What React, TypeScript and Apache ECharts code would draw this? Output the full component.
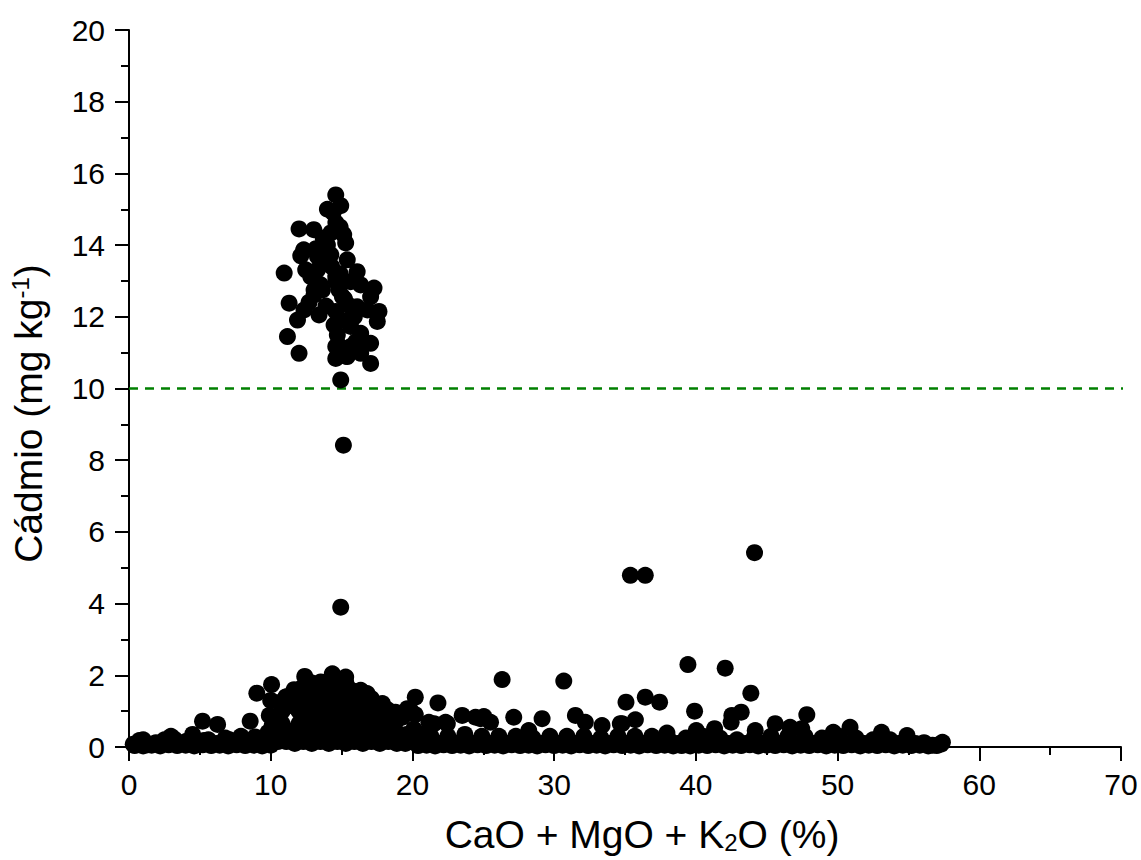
import React, { useEffect, useRef } from "react";
import * as echarts from "echarts";

// Upper cluster (samples above 10 mg/kg) and isolated points
const highCluster: number[][] = [
  [14.59, 15.4], [14.94, 15.1], [14.0, 15.0], [12.0, 14.45], [13.04, 14.43], [14.6, 14.62],
  [14.24, 14.34], [15.15, 14.29], [15.29, 14.06], [12.33, 13.87], [12.12, 13.7], [13.3, 13.68],
  [14.24, 13.73], [15.4, 13.59], [10.95, 13.22], [12.47, 13.31], [13.3, 13.31], [16.1, 13.26],
  [12.83, 13.12], [14.59, 13.12], [14.7, 12.94], [15.64, 12.98], [16.35, 12.89], [13.06, 12.75],
  [13.65, 12.75], [14.82, 12.75], [17.29, 12.8], [17.05, 12.56], [15.06, 12.56], [13.06, 12.61],
  [11.3, 12.38], [16.1, 12.28], [16.82, 12.19], [17.64, 12.15], [17.52, 11.87], [12.35, 12.19],
  [13.41, 12.05], [11.89, 11.91], [14.59, 12.15], [14.47, 11.77], [15.64, 11.73], [16.35, 11.54],
  [14.7, 11.49], [11.18, 11.45], [17.05, 11.26], [15.64, 11.17], [14.59, 11.17], [16.35, 10.98],
  [12.0, 10.98], [14.59, 10.84], [15.4, 10.89], [17.05, 10.7], [14.94, 10.24], [15.13, 8.42],
  [14.94, 3.9],
  [14.0, 14.0], [13.7, 13.5], [14.3, 13.4], [13.9, 12.3], [14.9, 13.2], [15.2, 12.5], [15.9, 12.0],
  [14.8, 11.2], [15.1, 11.9], [16.0, 11.3], [13.5, 12.9], [12.7, 12.4], [14.4, 14.9], [14.6, 13.0],
  [15.3, 10.9], [13.7, 14.2], [14.9, 14.5], [13.2, 13.9], [15.6, 12.3],
];

const outliers: number[][] = [
  [35.38, 4.79], [36.43, 4.79], [44.14, 5.42], [39.44, 2.3], [42.07, 2.2], [43.88, 1.5],
  [35.07, 1.25], [36.43, 1.39], [37.44, 1.25], [39.91, 1.0], [43.2, 0.97], [42.54, 0.88],
  [42.49, 0.69], [47.83, 0.9], [35.73, 0.76], [34.79, 0.65], [26.33, 1.88], [30.68, 1.84],
  [21.8, 1.23], [20.2, 1.39], [27.15, 0.83], [29.15, 0.79], [31.5, 0.88], [32.2, 0.69],
  [33.38, 0.6], [34.67, 0.65], [24.8, 0.79], [25.51, 0.69], [23.51, 0.88], [24.45, 0.83],
  [25.04, 0.85], [22.34, 0.69], [21.52, 0.65], [19.64, 1.07], [18.8, 0.97], [19.3, 0.83],
  [21.16, 0.69], [22.46, 0.65], [9.02, 1.5], [10.06, 1.74], [10.0, 1.3], [9.9, 0.88],
  [8.55, 0.72], [5.19, 0.72], [6.25, 0.63], [45.6, 0.65], [46.65, 0.55], [47.47, 0.51],
  [41.32, 0.51], [40.03, 0.46], [37.96, 0.39], [28.21, 0.46], [44.19, 0.46], [49.7, 0.41],
  [50.88, 0.55], [53.1, 0.41], [54.9, 0.32], [57.4, 0.13],
  [12.4, 1.97], [13.53, 1.81], [14.35, 2.04], [15.29, 1.95], [16.35, 1.58], [16.8, 1.49],
  [17.88, 1.21], [11.06, 1.39], [11.65, 1.6], [19.9, 1.0],
];

// Dense mass of low-cadmium samples between 10 and 20 %
const lowDense: number[][] = [
  [9.7, 0.1], [9.8, 0.4], [10.1, 0.6],
  [10.5, 0.15], [10.5, 0.5], [10.6, 0.9], [10.7, 1.25],
  [11.1, 0.15], [11.2, 0.45], [11.0, 1.1], [11.1, 1.4],
  [11.7, 0.1], [11.7, 0.45], [11.8, 1.1], [11.7, 1.55],
  [12.3, 0.15], [12.3, 0.5], [12.3, 0.85], [12.3, 1.2], [12.2, 1.65],
  [12.9, 0.1], [12.9, 0.45], [12.9, 0.8], [12.9, 1.15], [12.9, 1.5], [12.8, 1.8],
  [13.5, 0.15], [13.5, 0.5], [13.5, 0.85], [13.5, 1.2], [13.5, 1.55], [13.5, 1.8],
  [14.1, 0.1], [14.1, 0.45], [14.1, 0.8], [14.1, 1.15], [14.1, 1.5], [14.1, 1.85],
  [14.7, 0.15], [14.7, 0.5], [14.7, 0.85], [14.7, 1.2], [14.7, 1.55], [14.7, 1.9],
  [15.3, 0.1], [15.3, 0.45], [15.3, 0.8], [15.3, 1.15], [15.3, 1.5], [15.3, 1.8],
  [15.9, 0.15], [15.9, 0.5], [15.9, 0.85], [15.9, 1.2], [15.9, 1.55],
  [16.5, 0.1], [16.5, 0.45], [16.5, 0.8], [16.5, 1.15], [16.5, 1.45],
  [17.1, 0.15], [17.1, 0.5], [17.1, 0.85], [17.1, 1.2], [17.1, 1.35],
  [17.7, 0.1], [17.7, 0.45], [17.7, 0.8], [17.7, 1.1],
  [18.3, 0.15], [18.3, 0.5], [18.3, 0.85], [18.2, 1.05],
  [18.9, 0.1], [18.9, 0.4], [18.9, 0.75],
  [19.5, 0.1], [19.6, 0.35],
  [20.1, 0.15], [20.1, 0.5], [20.2, 0.9],
  [10.8, 0.3], [10.8, 0.65], [10.8, 1.0],
  [11.4, 0.3], [11.4, 1.3],
  [12.0, 0.3], [12.0, 0.65], [12.0, 1.0], [12.0, 1.35],
  [12.6, 0.3], [12.6, 0.65], [12.6, 1.0], [12.6, 1.35], [12.6, 1.65],
  [13.2, 0.3], [13.2, 0.65], [13.2, 1.0], [13.2, 1.35], [13.2, 1.7],
  [13.8, 0.3], [13.8, 0.65], [13.8, 1.0], [13.8, 1.35], [13.8, 1.7],
  [14.4, 0.3], [14.4, 0.65], [14.4, 1.0], [14.4, 1.35], [14.4, 1.75],
  [15.0, 0.3], [15.0, 0.65], [15.0, 1.0], [15.0, 1.35], [15.0, 1.7],
  [15.6, 0.3], [15.6, 0.65], [15.6, 1.0], [15.6, 1.35], [15.6, 1.6],
  [16.2, 0.3], [16.2, 0.65], [16.2, 1.0], [16.2, 1.35], [16.2, 1.5],
  [16.8, 0.3], [16.8, 0.65], [16.8, 1.0], [16.8, 1.3],
  [17.4, 0.3], [17.4, 0.65], [17.4, 1.0], [17.4, 1.2],
  [18.0, 0.3], [18.0, 0.65], [18.0, 0.95],
  [18.6, 0.3], [18.6, 0.6],
  [19.2, 0.25], [20.6, 0.35],
];

// Near-zero band along the whole x range
const baseline: number[][] = [
  [0.3, 0.08], [0.73, 0.18], [1.3, 0.06], [1.9, 0.12], [2.5, 0.2], [2.96, 0.3], [3.5, 0.1],
  [4.0, 0.15], [4.49, 0.35], [5.0, 0.1], [5.6, 0.2], [6.2, 0.1], [6.8, 0.25], [7.4, 0.12],
  [7.9, 0.3], [8.4, 0.1], [8.9, 0.28], [9.3, 0.12],
  [20.7, 0.1], [21.3, 0.3], [21.9, 0.1], [22.5, 0.3], [23.1, 0.1], [23.7, 0.35], [24.3, 0.1],
  [24.9, 0.3], [25.5, 0.1], [26.1, 0.3], [26.7, 0.1], [27.3, 0.3], [27.9, 0.1], [28.5, 0.25],
  [29.1, 0.1], [29.7, 0.3], [30.3, 0.1], [30.9, 0.3], [31.5, 0.1], [32.1, 0.3], [32.7, 0.1],
  [33.3, 0.25], [33.9, 0.1], [34.5, 0.3], [35.1, 0.1], [35.7, 0.3], [36.3, 0.1], [36.9, 0.3],
  [37.5, 0.1], [38.1, 0.2], [38.7, 0.1], [39.3, 0.25], [39.9, 0.1], [40.5, 0.3], [41.1, 0.1],
  [41.7, 0.25], [42.3, 0.1], [42.9, 0.2], [43.5, 0.1], [44.1, 0.25], [44.7, 0.1], [45.3, 0.3],
  [45.9, 0.1], [46.5, 0.3], [47.1, 0.1], [47.7, 0.3], [48.3, 0.1], [48.9, 0.25], [49.5, 0.1],
  [50.1, 0.3], [50.7, 0.1], [51.3, 0.25], [51.9, 0.1], [52.5, 0.2], [53.1, 0.1], [53.7, 0.2],
  [54.3, 0.1], [54.9, 0.15], [55.5, 0.1], [56.1, 0.12], [56.7, 0.05], [57.3, 0.08],
  [1.0, 0.2], [3.2, 0.22], [5.3, 0.18], [7.1, 0.2], [8.7, 0.2],
];

// Lowest row of near-zero samples
const floorRow: number[][] = [
  [0.4, 0.04], [1.0, 0.03], [1.6, 0.05], [2.2, 0.03], [2.8, 0.06], [3.4, 0.04], [4.0, 0.05],
  [4.6, 0.03], [5.2, 0.06], [5.8, 0.04], [6.4, 0.05], [7.0, 0.03], [7.6, 0.06], [8.2, 0.04],
  [8.8, 0.05], [9.4, 0.03], [10.0, 0.05],
  [20.4, 0.04], [21.0, 0.05], [21.6, 0.03], [22.2, 0.06], [22.8, 0.04], [23.4, 0.05], [24.0, 0.03],
  [24.6, 0.06], [25.2, 0.04], [25.8, 0.05], [26.4, 0.03], [27.0, 0.06], [27.6, 0.04], [28.2, 0.05],
  [28.8, 0.03], [29.4, 0.06], [30.0, 0.04], [30.6, 0.05], [31.2, 0.03], [31.8, 0.06], [32.4, 0.04],
  [33.0, 0.05], [33.6, 0.03], [34.2, 0.06], [34.8, 0.04], [35.4, 0.05], [36.0, 0.03], [36.6, 0.06],
  [37.2, 0.04], [37.8, 0.05], [38.4, 0.03], [39.0, 0.04], [39.6, 0.03], [40.2, 0.05], [40.8, 0.04],
  [41.4, 0.06], [42.0, 0.03], [42.6, 0.05], [43.2, 0.04], [43.8, 0.06], [44.4, 0.03], [45.0, 0.05],
  [45.6, 0.04], [46.2, 0.06], [46.8, 0.03], [47.4, 0.05], [48.0, 0.04], [48.6, 0.06], [49.2, 0.03],
  [49.8, 0.05], [50.4, 0.04], [51.0, 0.06], [51.6, 0.03], [52.2, 0.05], [52.8, 0.04], [53.4, 0.06],
  [54.0, 0.03], [54.6, 0.05], [55.2, 0.04], [55.8, 0.05], [56.4, 0.03], [57.0, 0.04],
];

const limitLine: number[][] = [[0, 10], [71.4, 10]];
const xRange = [0, 70];
const yRange = [0, 20];

const FONT = "'Liberation Sans', Arial, sans-serif";

export default function App() {
  const ref = useRef<HTMLDivElement>(null);
  useEffect(() => {
    if (!ref.current) return;
    const chart = echarts.init(ref.current, undefined, { renderer: "svg" });
    const allPoints = [...floorRow, ...baseline, ...lowDense, ...outliers, ...highCluster];
    const axisCommon = {
      axisLine: { show: true, lineStyle: { color: "#000", width: 2 } },
      axisTick: { show: true, inside: false, length: 14, lineStyle: { color: "#000", width: 2 } },
      minorTick: { show: true, splitNumber: 2, length: 8, lineStyle: { color: "#000", width: 2 } },
      splitLine: { show: false },
      minorSplitLine: { show: false },
    };
    chart.setOption({
      animation: false,
      backgroundColor: "#fff",
      grid: { left: 128, right: 20, top: 30, bottom: 113 },
      xAxis: {
        type: "value",
        min: xRange[0],
        max: xRange[1],
        interval: 10,
        ...axisCommon,
        axisLabel: { color: "#000", fontSize: 30, fontFamily: FONT, margin: 22 },
        name: "CaO + MgO + K{sub|2}O (%)",
        nameLocation: "middle",
        nameGap: 68,
        nameTextStyle: {
          color: "#000",
          fontSize: 39,
          fontFamily: FONT,
          padding: [0, 0, 0, 34],
          rich: {
            sub: { fontSize: 24, fontFamily: FONT, color: "#000", verticalAlign: "bottom", padding: [14, 0, 0, 0] },
          },
        },
      },
      yAxis: {
        type: "value",
        min: yRange[0],
        max: yRange[1],
        interval: 2,
        ...axisCommon,
        axisLabel: { color: "#000", fontSize: 30, fontFamily: FONT, margin: 24 },
        name: "Cádmio (mg kg{sup|-1})",
        nameLocation: "middle",
        nameGap: 81,
        nameTextStyle: {
          color: "#000",
          fontSize: 39,
          fontFamily: FONT,
          padding: [0, 50, 0, 0],
          rich: {
            sup: { fontSize: 24, fontFamily: FONT, color: "#000", verticalAlign: "top", padding: [0, 0, 16, 0] },
          },
        },
      },
      series: [
        {
          type: "line",
          data: limitLine,
          symbol: "none",
          clip: false,
          silent: true,
          z: 1,
          lineStyle: { color: "#008000", type: [9, 7], width: 2.5 },
        },
        {
          type: "scatter",
          data: allPoints,
          symbol: "circle",
          symbolSize: 17,
          itemStyle: { color: "#000", opacity: 1 },
          clip: true,
          z: 2,
        },
      ],
    });
    return () => chart.dispose();
  }, []);
  return <div ref={ref} style={{ width: 1141, height: 860, position: "absolute", left: 0, top: 0 }} />;
}
